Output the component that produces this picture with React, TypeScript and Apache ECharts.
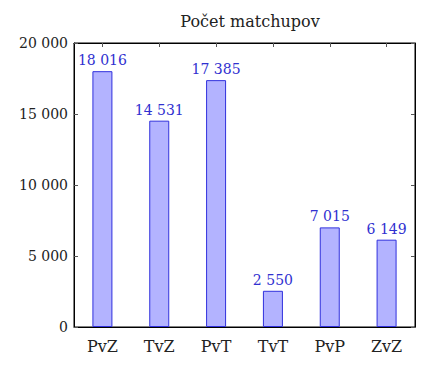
import React, { useEffect, useRef } from "react";
import * as echarts from "echarts";

const categories = ["PvZ", "TvZ", "PvT", "TvT", "PvP", "ZvZ"];
const matchups = [18016, 14531, 17385, 2550, 7015, 6149];
const yTicks = [0, 5000, 10000, 15000, 20000];

const fmt = (v: number) => String(v).replace(/\B(?=(\d{3})+(?!\d))/g, " ");

export default function App() {
  const ref = useRef<HTMLDivElement>(null);
  useEffect(() => {
    if (!ref.current) return;
    const chart = echarts.init(ref.current, undefined, { renderer: "svg" });
    const font = "DejaVu Serif";
    const tick = { show: true, inside: true, length: 4, lineStyle: { color: "#555" } };
    chart.setOption({
      animation: false,
      textStyle: { fontFamily: font },
      title: {
        text: "Počet matchupov",
        left: 245,
        top: 8,
        textAlign: "center",
        textStyle: { fontFamily: font, fontSize: 16, fontWeight: "normal", color: "#222" },
      },
      grid: { left: 74, right: 14, top: 43, bottom: 39, show: true, borderColor: "#000", borderWidth: 1 },
      xAxis: [
        {
          type: "category",
          data: categories,
          position: "bottom",
          axisLine: { show: true, onZero: false, lineStyle: { color: "#000" } },
          axisTick: { ...tick, alignWithLabel: true },
          axisLabel: { color: "#222", fontSize: 16, fontFamily: font, margin: 11 },
        },
        {
          type: "category",
          data: categories,
          position: "top",
          axisLine: { show: true, onZero: false, lineStyle: { color: "#000" } },
          axisTick: { ...tick, alignWithLabel: true },
          axisLabel: { show: false },
        },
      ],
      yAxis: [
        {
          type: "value",
          min: 0,
          max: 20000,
          interval: 5000,
          position: "left",
          axisLine: { show: true, lineStyle: { color: "#000" } },
          splitLine: { show: false },
          axisTick: tick,
          axisLabel: {
            color: "#222",
            fontSize: 14,
            fontFamily: font,
            margin: 6,
            formatter: (v: number) => (yTicks.includes(v) ? fmt(v) : ""),
          },
        },
        {
          type: "value",
          min: 0,
          max: 20000,
          interval: 5000,
          position: "right",
          axisLine: { show: true, lineStyle: { color: "#000" } },
          splitLine: { show: false },
          axisTick: tick,
          axisLabel: { show: false },
        },
      ],
      series: [
        {
          type: "bar",
          data: matchups,
          barWidth: 20,
          itemStyle: { color: "#b3b3ff", borderColor: "#3030dd", borderWidth: 1 },
          label: {
            show: true,
            position: "top",
            distance: 4,
            color: "#3030d0",
            fontSize: 14,
            fontFamily: font,
            formatter: (p: any) => fmt(p.value),
          },
        },
      ],
    });
    return () => chart.dispose();
  }, []);
  return <div ref={ref} style={{ position: "absolute", left: 0, top: 0, width: 429, height: 366 }} />;
}
